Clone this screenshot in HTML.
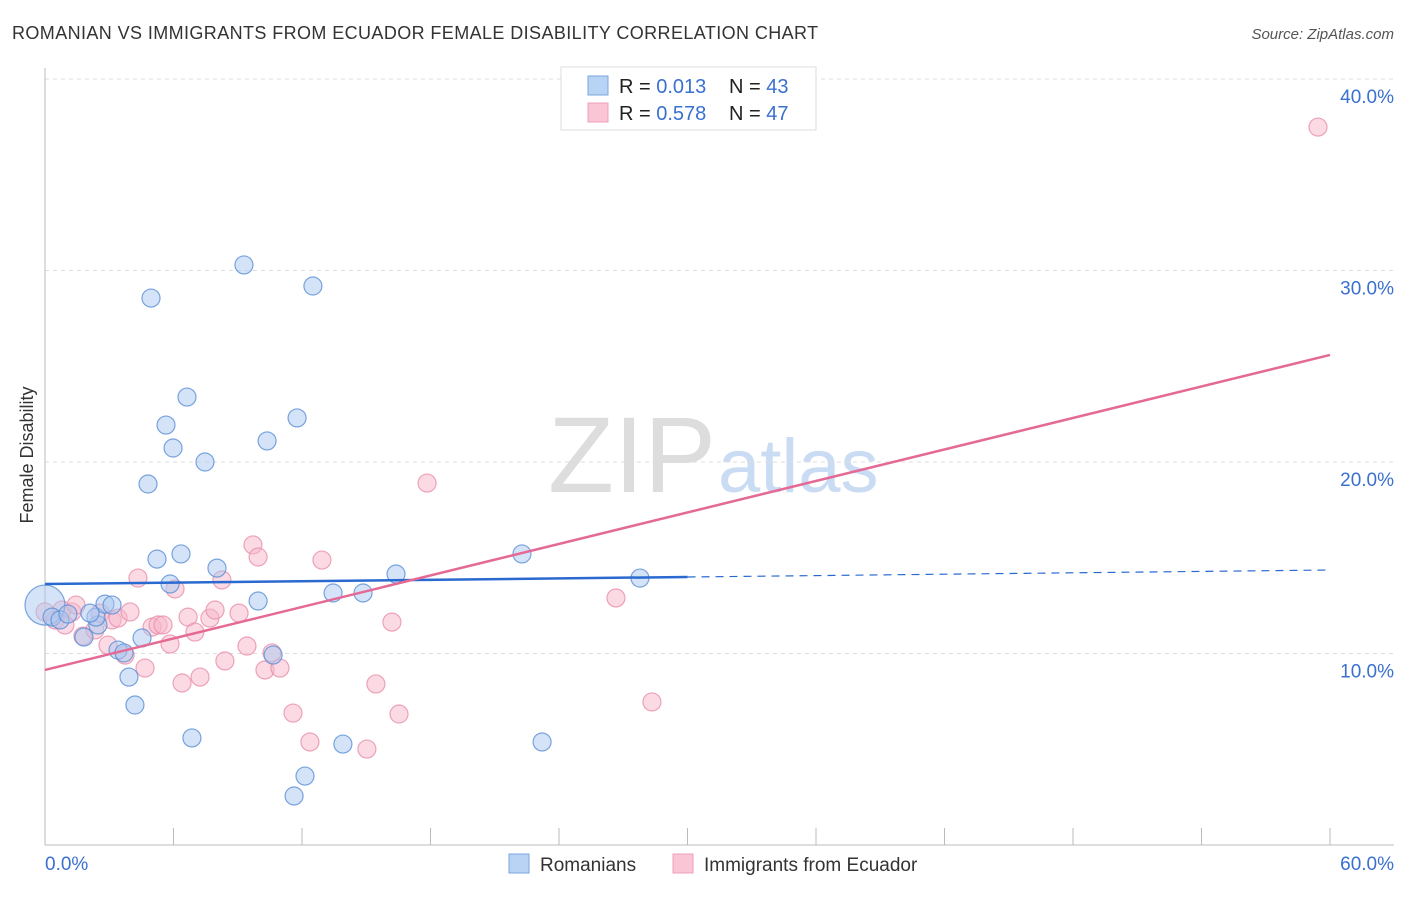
<!DOCTYPE html>
<html><head><meta charset="utf-8"><style>
body{margin:0;background:#fff;font-family:"Liberation Sans",sans-serif;}
svg text{font-family:"Liberation Sans",sans-serif;}
</style></head><body>
<svg id="chart" width="1406" height="892">
<text x="12" y="39" font-size="18" fill="#333" letter-spacing="0.4">ROMANIAN VS IMMIGRANTS FROM ECUADOR FEMALE DISABILITY CORRELATION CHART</text>
<text x="1394" y="39" font-size="15" fill="#555" font-style="italic" text-anchor="end">Source: ZipAtlas.com</text>
<text x="33" y="455" font-size="18" fill="#333" text-anchor="middle" transform="rotate(-90 33 455)">Female Disability</text>
<text x="716" y="492" font-size="108" fill="#ddd" text-anchor="end" font-family="Liberation Serif">ZIP</text>
<text x="718" y="492" font-size="76" fill="#c9dcf3">atlas</text>
<g id="grid"></g><g id="axes"></g><g id="pts"></g><g id="lines"></g>
<g>
<rect x="561" y="67" width="255" height="63" fill="#fff" stroke="#ddd"/>
<rect x="588" y="76" width="20" height="19" fill="#b9d3f5" stroke="#7aa5dd"/>
<rect x="588" y="103" width="20" height="19" fill="#fac5d5" stroke="#eda0b8"/>
<text x="619" y="93" font-size="20" fill="#222">R = <tspan fill="#3a70d0">0.013</tspan></text>
<text x="729" y="93" font-size="20" fill="#222">N = <tspan fill="#3a70d0">43</tspan></text>
<text x="619" y="120" font-size="20" fill="#222">R = <tspan fill="#3a70d0">0.578</tspan></text>
<text x="729" y="120" font-size="20" fill="#222">N = <tspan fill="#3a70d0">47</tspan></text>
</g>
<g>
<rect x="509" y="854" width="20" height="19" fill="#b9d3f5" stroke="#7aa5dd"/>
<text x="540" y="871" font-size="19" fill="#333">Romanians</text>
<rect x="673" y="854" width="20" height="19" fill="#fac5d5" stroke="#eda0b8"/>
<text x="704" y="871" font-size="19" fill="#333">Immigrants from Ecuador</text>
</g>
</svg>
<script>
const yTicks=[10,20,30,40];
const yTickLabels=["10.0%","20.0%","30.0%","40.0%"];
const xTickLabels=["0.0%","60.0%"];
const blueX=[0,0.33,0.7,1.07,1.82,2.47,2.38,2.8,3.13,2.1,3.41,3.69,3.92,4.2,4.53,4.81,4.95,5.23,5.65,5.84,5.98,6.35,6.63,6.86,7.47,8.03,9.29,9.95,10.37,10.65,11.77,11.63,12.14,12.51,13.45,13.91,14.85,16.39,22.27,23.21,27.78];
const blueY=[12.53,11.9,11.75,12.06,10.86,11.49,11.9,12.58,12.53,12.11,10.18,10.03,8.77,7.31,10.81,18.85,28.56,14.93,21.93,13.63,20.73,15.2,23.39,5.59,20.0,14.46,30.29,12.74,21.1,9.92,22.3,2.56,3.6,29.19,13.16,5.27,13.16,14.15,15.2,5.38,13.94];
const pinkX=[0,0.47,0.79,1.26,1.45,1.77,2.57,2.94,3.13,3.41,3.74,4.34,4.67,5.0,5.28,5.51,5.84,6.07,6.4,6.68,7.0,7.24,7.7,7.94,8.26,8.4,9.06,9.43,9.71,9.95,10.27,10.6,10.97,11.58,12.37,12.93,15.03,15.45,16.2,16.53,17.84,26.66,28.34,59.44,0.93,2.33,3.97];
const pinkY=[12.17,11.75,12.27,12.17,12.53,10.91,12.11,10.44,11.75,11.85,9.92,13.94,9.24,11.38,11.49,11.49,10.5,13.37,8.46,11.9,11.12,8.77,11.85,12.27,13.84,9.61,12.11,10.39,15.67,15.04,9.14,10.03,9.24,6.89,5.38,14.88,5.01,8.41,11.64,6.84,18.9,12.9,7.47,37.49,11.49,11.23,12.17];
const blueTrend=[13.63,14.36];
const pinkTrend=[9.14,25.59];
const NS="http://www.w3.org/2000/svg";
const sx=v=>45+v/60*1285, sy=v=>845-v*19.15;
function mk(tag,attrs,parent){const e=document.createElementNS(NS,tag);for(const k in attrs)e.setAttribute(k,attrs[k]);parent.appendChild(e);return e;}
const grid=document.getElementById('grid'),axes=document.getElementById('axes'),pts=document.getElementById('pts'),lines=document.getElementById('lines');
yTicks.forEach((t,i)=>{
 const l=mk('line',{x1:45,x2:1394,y1:sy(t),y2:sy(t),stroke:'#ddd','stroke-dasharray':'4,4'},grid);
 
 
 const tx=mk('text',{x:1394,y:sy(t)+24,'font-size':19,fill:'#3a70d0','text-anchor':'end'},axes);
 tx.textContent=yTickLabels[i];
 
 
});
const ax=mk('line',{x1:45,x2:1394,y1:845,y2:845,stroke:'#bbb'},axes);


const ay=mk('line',{x1:45,x2:45,y1:68,y2:845,stroke:'#bbb'},axes);


for(let i=0;i<=10;i++){
 const t=mk('line',{x1:sx(i*6),x2:sx(i*6),y1:828,y2:845,stroke:'#bbb'},axes);
 
 
}
[[0,'start',45],[60,'end',1394]].forEach((d,i)=>{
 const tx=mk('text',{x:d[2],y:870,'font-size':19,fill:'#3a70d0','text-anchor':d[1]},axes);
 tx.textContent=xTickLabels[i];
 
 
});
function pointsFor(X,Y,fill,stroke,name,bigFirst){
 X.forEach((x,i)=>{
  const c=mk('circle',{cx:sx(x),cy:sy(Y[i]),r:(bigFirst&&i===0)?20:9,fill:fill,'fill-opacity':0.5,stroke:stroke,'stroke-width':1.2,'stroke-opacity':0.8},pts);
  
  
 });
}
pointsFor(pinkX,pinkY,'#f7b5c9','#e88fab','point-ecuador',false);
pointsFor(blueX,blueY,'#a9c8f0','#5a8ed6','point-romanian',true);
const b1=mk('line',{x1:sx(0),y1:sy(blueTrend[0]),x2:sx(30),y2:sy((blueTrend[0]+blueTrend[1])/2),stroke:'#2a6ad0','stroke-width':2.5},lines);


const b2=mk('line',{x1:sx(30),y1:sy((blueTrend[0]+blueTrend[1])/2),x2:sx(60),y2:sy(blueTrend[1]),stroke:'#2a6ad0','stroke-width':1.2,'stroke-dasharray':'8,6'},lines);


const p1=mk('line',{x1:sx(0),y1:sy(pinkTrend[0]),x2:sx(60),y2:sy(pinkTrend[1]),stroke:'#e46a95','stroke-width':2.5},lines);


</script>
</body></html>
